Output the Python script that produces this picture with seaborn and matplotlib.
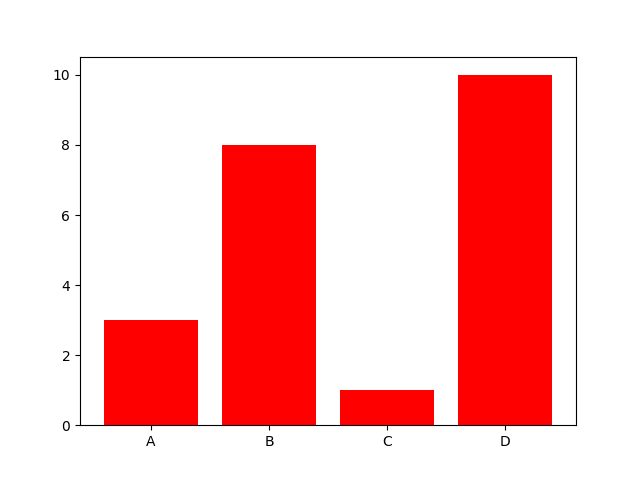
import matplotlib
matplotlib.use("Agg")
import matplotlib.pyplot as plt
import seaborn as sns
import pandas as pd

categories = ["A", "B", "C", "D"]
values = [3, 8, 1, 10]

df = pd.DataFrame({"cat": categories, "val": values})

fig, ax = plt.subplots(figsize=(6.4, 4.78), dpi=100)
sns.barplot(data=df, x="cat", y="val", color="red", saturation=1, width=0.8, ax=ax, errorbar=None)
ax.set_xlim(-0.6, 3.6)
ax.set_ylim(0, 10.5)
ax.set_xlabel("")
ax.set_ylabel("")
fig.subplots_adjust(left=0.125, right=0.9, bottom=0.11, top=0.88)
fig.savefig("out.png", dpi=100)
